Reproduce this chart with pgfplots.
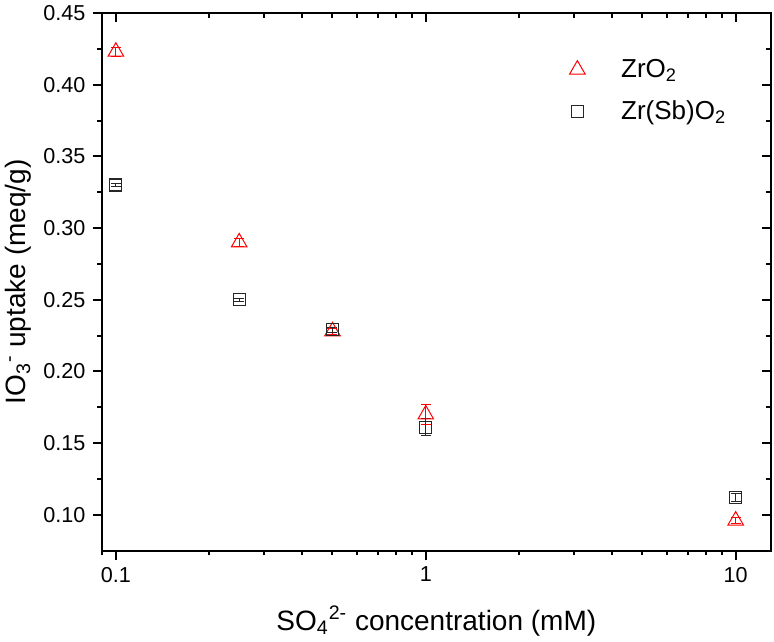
\documentclass[border=0pt]{standalone}
\usepackage{fontspec}
\setmainfont{Liberation Sans}
\usepackage{pgfplots}
\pgfplotsset{compat=1.18}

\begin{document}
\begin{tikzpicture}
% left and bottom: ticks outside, with labels
\begin{axis}[name=a,
    scale only axis, width=334.65pt, height=268.85pt,
    xmode=log, xmin=0.09, xmax=13, ymin=0.075, ymax=0.45,
    xtick={0.1,1,10},
    minor xtick={0.09,0.2,0.3,0.4,0.5,0.6,0.7,0.8,0.9,2,3,4,5,6,7,8,9},
    ytick={0.10,0.15,0.20,0.25,0.30,0.35,0.40,0.45},
    minor y tick num=1,
    axis line style={line width=1pt},
    tick style={black, line width=1pt},
    major tick length=4.6pt, minor tick length=2.3pt,
    tick align=outside, xtick pos=left, ytick pos=left,
    xticklabels={0.1,1,10},
    /pgf/number format/assume math mode=true,
    yticklabel style={/pgf/number format/fixed, /pgf/number format/fixed zerofill, /pgf/number format/precision=2},
    ticklabel style={font=\fontsize{10.8}{13}\selectfont},
    label style={font=\fontsize{14}{16}\selectfont},
    xlabel style={yshift=-5pt},
    ylabel style={yshift=-1pt},
    xlabel={SO\textsubscript{4}\textsuperscript{2-} concentration (mM)},
    ylabel={IO\textsubscript{3}\textsuperscript{-} uptake (meq/g)},
    legend style={draw=none, fill=none, at={(0.6895,0.93)}, anchor=north west,
      font=\fontsize{13}{15}\selectfont, row sep=6pt},
    legend cell align=left,
]
% ZrO2
\addplot[only marks, mark=triangle, mark size=4.5pt, red, mark options={line width=0.5pt},
  error bars/.cd, y dir=both, y explicit,
  error bar style={red, line width=0.5pt},
  error mark options={rotate=90, red, mark size=2.5pt, line width=0.5pt}]
coordinates {
  (0.1,0.423) +- (0,0.003)
  (0.25,0.290) +- (0,0.003)
  (0.5,0.228) +- (0,0.002)
  (1,0.170) +- (0,0.007)
  (10,0.096) +- (0,0.002)
};
\addlegendentry{\hspace{16pt}ZrO\textsubscript{2}}
% Zr(Sb)O2
\addplot[only marks, mark=square, mark size=3pt, black!85, mark options={line width=0.6pt},
  error bars/.cd, y dir=both, y explicit,
  error bar style={black!85, line width=0.5pt},
  error mark options={rotate=90, black!85, mark size=2.5pt, line width=0.5pt}]
coordinates {
  (0.1,0.330) +- (0,0.001)
  (0.25,0.250) +- (0,0.001)
  (0.5,0.229) +- (0,0.002)
  (1,0.161) +- (0,0.006)
  (10,0.112) +- (0,0.003)
};
\addlegendentry{\hspace{16pt}Zr(Sb)O\textsubscript{2}}
\end{axis}
% top and right: ticks inside, no labels
\begin{axis}[
    scale only axis, width=334.65pt, height=268.85pt,
    xmode=log, xmin=0.09, xmax=13, ymin=0.075, ymax=0.45,
    xtick={0.1,1,10},
    minor xtick={0.09,0.2,0.3,0.4,0.5,0.6,0.7,0.8,0.9,2,3,4,5,6,7,8,9},
    ytick={0.10,0.15,0.20,0.25,0.30,0.35,0.40,0.45},
    minor y tick num=1,
    axis line style={line width=1pt},
    tick style={black, line width=1pt},
    major tick length=4.6pt, minor tick length=2.3pt,
    tick align=inside, xtick pos=right, ytick pos=right,
    xticklabels={}, yticklabels={},
]
\addplot[draw=none] coordinates {(1,0.2)};
\end{axis}
\pgfresetboundingbox
\path[use as bounding box] ([shift={(-50.85pt,-45.15pt)}]a.south west) rectangle ([shift={(1.5pt,6.5pt)}]a.north east);
\end{tikzpicture}
\end{document}
